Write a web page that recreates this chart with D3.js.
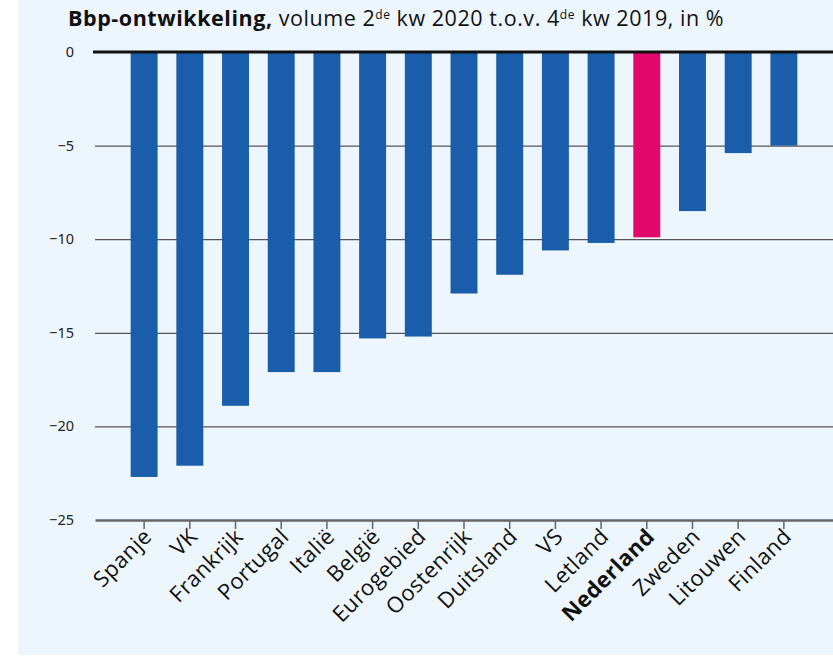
<!DOCTYPE html>
<html><head><meta charset="utf-8">
<script src="https://cdn.jsdelivr.net/npm/d3@7"></script>
<style>
html,body{margin:0;padding:0;background:#fff;}
svg{display:block;}
</style></head>
<body><div id="chart"></div>
<script>
const categories = ["Spanje","VK","Frankrijk","Portugal","Italië","België","Eurogebied","Oostenrijk","Duitsland","VS","Letland","Nederland","Zweden","Litouwen","Finland"];
const values = [-22.7,-22.1,-18.9,-17.1,-17.1,-15.3,-15.2,-12.9,-11.9,-10.6,-10.2,-9.9,-8.5,-5.4,-5.0];
const highlight = ["Nederland"];
const yTicks = [0,-5,-10,-15,-20,-25];

const W = 833, H = 658;
const svg = d3.select("#chart").append("svg").attr("width", W).attr("height", H);
svg.append("rect").attr("x",18).attr("y",0).attr("width",W-18).attr("height",655).attr("fill","#eef6fd");

const font = "'Open Sans', sans-serif";
const x = d3.scaleBand().domain(categories).range([95, 833]).paddingInner(0.41).paddingOuter(0.78);
const y = d3.scaleLinear().domain([-25, 0]).range([520, 52]);

// title
const t = svg.append("text").attr("x", 68).attr("y", 26).attr("font-family", font).attr("font-size", 21.5).attr("fill", "#111").attr("letter-spacing", 0.55);
t.append("tspan").attr("font-weight", "bold").text("Bbp-ontwikkeling,");
t.append("tspan").text(" volume 2");
t.append("tspan").attr("font-size", 12).attr("dy", -7).text("de");
t.append("tspan").attr("dy", 7).text(" kw 2020 t.o.v. 4");
t.append("tspan").attr("font-size", 12).attr("dy", -7).text("de");
t.append("tspan").attr("dy", 7).text(" kw 2019, in %");

// gridlines
const yAxis = d3.axisLeft(y).tickValues(yTicks.filter(v => v !== 0 && v !== -25)).tickSize(-(833-95)).tickFormat("");
const gy = svg.append("g").attr("transform", "translate(95,0)").call(yAxis);
gy.select(".domain").remove();
gy.selectAll(".tick line").attr("stroke", "#555").attr("stroke-width", 1.2);

// y labels
svg.append("g").selectAll("text").data(yTicks).join("text")
  .attr("x", 74).attr("y", d => y(d) + 5).attr("text-anchor", "end")
  .attr("font-family", "'Noto Sans', sans-serif").attr("font-size", 14.5).attr("fill", "#222")
  .text(d => d === 0 ? "0" : "\u2212" + Math.abs(d));

// bars
svg.append("g").selectAll("rect").data(categories).join("rect")
  .attr("x", d => x(d)).attr("width", x.bandwidth())
  .attr("y", y(0)).attr("height", (d, i) => y(values[i]) - y(0))
  .attr("fill", d => highlight.includes(d) ? "#e3086b" : "#1a5dab");

// bottom axis
const xAxis = d3.axisBottom(x).tickSize(9).tickSizeOuter(0).tickFormat("");
const gx = svg.append("g").attr("transform", `translate(0,${y(-25)})`).call(xAxis);
gx.select(".domain").attr("stroke", "#666").attr("stroke-width", 2.5);
gx.selectAll(".tick line").attr("stroke", "#666").attr("stroke-width", 1.5);

// x labels
svg.append("g").selectAll("text").data(categories).join("text")
  .attr("transform", d => `translate(${x(d) + x.bandwidth()/2 + 9},${y(-25) + 18}) rotate(-45)`)
  .attr("text-anchor", "end")
  .attr("font-family", font).attr("font-size", 22).attr("fill", "#111").attr("letter-spacing", 0.4)
  .attr("font-weight", d => highlight.includes(d) ? "bold" : "normal")
  .text(d => d);

// zero line
svg.append("line").attr("x1", 93).attr("x2", 833).attr("y1", y(0)).attr("y2", y(0))
  .attr("stroke", "#111").attr("stroke-width", 3);
</script></body></html>
